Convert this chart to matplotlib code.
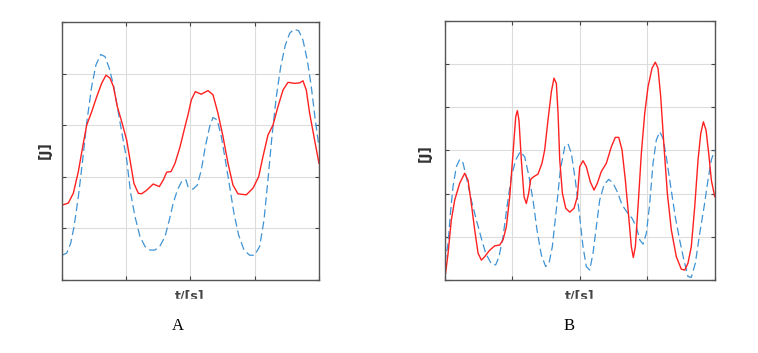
import matplotlib
matplotlib.use("Agg")
import matplotlib.pyplot as plt
from matplotlib.patches import Rectangle

# Panel A data (t in 0..4, energy in 0..5)
a_red_t = [0, 0.098, 0.176, 0.254, 0.332, 0.384, 0.462, 0.54, 0.617, 0.685,
           0.747, 0.80, 0.861, 0.929, 1.007, 1.058, 1.12, 1.188, 1.24, 1.318,
           1.42, 1.515, 1.577, 1.63, 1.697, 1.759, 1.837, 1.914, 1.961, 2.013,
           2.075, 2.168, 2.272, 2.35, 2.428, 2.506, 2.584, 2.661, 2.739, 2.869,
           2.973, 3.061, 3.128, 3.206, 3.284, 3.362, 3.44, 3.518, 3.622, 3.70,
           3.751, 3.803, 3.855, 3.922, 4.0]
a_red_e = [1.45, 1.49, 1.68, 2.10, 2.65, 3.00, 3.26, 3.55, 3.81, 3.97,
           3.91, 3.75, 3.36, 3.07, 2.71, 2.33, 1.87, 1.68, 1.67, 1.74,
           1.86, 1.81, 1.94, 2.09, 2.10, 2.26, 2.58, 2.97, 3.20, 3.49,
           3.65, 3.60, 3.67, 3.59, 3.23, 2.78, 2.26, 1.84, 1.67, 1.65,
           1.78, 2.00, 2.39, 2.81, 3.00, 3.36, 3.68, 3.83, 3.81, 3.82,
           3.86, 3.68, 3.23, 2.78, 2.26]
a_blue_t = [0, 0.073, 0.135, 0.187, 0.254, 0.322, 0.384, 0.462, 0.529, 0.602,
            0.669, 0.736, 0.80, 0.861, 0.929, 1.007, 1.069, 1.136, 1.214, 1.292,
            1.37, 1.447, 1.525, 1.603, 1.67, 1.732, 1.795, 1.863, 1.93, 1.961,
            2.039, 2.106, 2.168, 2.23, 2.298, 2.35, 2.417, 2.48, 2.542, 2.61,
            2.677, 2.75, 2.833, 2.921, 2.999, 3.077, 3.144, 3.206, 3.268, 3.336,
            3.404, 3.476, 3.544, 3.611, 3.684, 3.751, 3.818, 3.88, 3.943, 4.0]
a_blue_e = [0.48, 0.52, 0.71, 1.03, 1.61, 2.33, 3.04, 3.75, 4.17, 4.37,
            4.33, 4.10, 3.78, 3.36, 2.87, 2.33, 1.68, 1.23, 0.84, 0.65,
            0.58, 0.58, 0.66, 0.84, 1.16, 1.49, 1.74, 1.91, 1.94, 1.81,
            1.76, 1.84, 2.13, 2.58, 2.97, 3.15, 3.10, 2.78, 2.33, 1.81,
            1.29, 0.87, 0.58, 0.48, 0.48, 0.65, 1.16, 1.94, 2.78, 3.55,
            4.13, 4.55, 4.78, 4.86, 4.83, 4.65, 4.26, 3.75, 3.10, 2.58]

# Panel B data (t in 0..4, energy in 0..6)
b_red_t = [0, 0.05, 0.098, 0.148, 0.222, 0.296, 0.345, 0.394, 0.444, 0.494,
           0.543, 0.592, 0.667, 0.741, 0.815, 0.864, 0.913, 0.963, 1.012, 1.052,
           1.076, 1.10, 1.135, 1.175, 1.209, 1.244, 1.274, 1.318, 1.382, 1.441,
           1.481, 1.53, 1.58, 1.619, 1.654, 1.679, 1.704, 1.743, 1.793, 1.852,
           1.916, 1.965, 2.0, 2.049, 2.098, 2.157, 2.212, 2.261, 2.32, 2.394,
           2.468, 2.527, 2.578, 2.627, 2.676, 2.726, 2.765, 2.794, 2.824, 2.864,
           2.913, 2.963, 3.012, 3.071, 3.12, 3.16, 3.20, 3.249, 3.298, 3.357,
           3.431, 3.505, 3.556, 3.604, 3.653, 3.704, 3.753, 3.793, 3.832, 3.871,
           3.911, 3.95, 4.0]
b_red_e = [0, 0.62, 1.39, 1.85, 2.24, 2.47, 2.31, 1.77, 1.16, 0.62,
           0.46, 0.54, 0.69, 0.79, 0.81, 0.93, 1.23, 1.93, 2.93, 3.78,
           3.92, 3.70, 2.78, 1.93, 1.77, 2.01, 2.33, 2.39, 2.45, 2.70,
           3.01, 3.70, 4.36, 4.67, 4.55, 3.86, 2.78, 2.01, 1.66, 1.57,
           1.66, 1.93, 2.62, 2.76, 2.62, 2.27, 2.08, 2.24, 2.51, 2.70,
           3.08, 3.30, 3.30, 3.01, 2.31, 1.46, 0.77, 0.52, 0.77, 1.70,
           2.93, 3.86, 4.47, 4.90, 5.04, 4.90, 4.24, 3.08, 2.01, 1.16,
           0.54, 0.25, 0.23, 0.39, 0.77, 1.70, 2.78, 3.39, 3.66, 3.47,
           2.93, 2.31, 1.93]
b_blue_t = [0, 0.05, 0.084, 0.123, 0.172, 0.222, 0.271, 0.33, 0.394, 0.469,
            0.543, 0.607, 0.691, 0.755, 0.804, 0.864, 0.923, 0.987, 1.052, 1.12,
            1.185, 1.249, 1.308, 1.367, 1.431, 1.496, 1.545, 1.594, 1.653, 1.713,
            1.778, 1.827, 1.876, 1.935, 2.0, 2.049, 2.098, 2.148, 2.197, 2.246,
            2.296, 2.36, 2.43, 2.49, 2.557, 2.627, 2.705, 2.775, 2.839, 2.889,
            2.938, 2.987, 3.037, 3.086, 3.135, 3.185, 3.234, 3.283, 3.348, 3.416,
            3.48, 3.544, 3.604, 3.653, 3.713, 3.778, 3.843, 3.90, 3.95, 4.0]
b_blue_e = [0.39, 0.85, 1.54, 2.16, 2.62, 2.79, 2.71, 2.31, 1.85, 1.39,
            0.96, 0.62, 0.37, 0.35, 0.54, 1.00, 1.70, 2.39, 2.78, 2.97,
            2.85, 2.39, 1.85, 1.16, 0.58, 0.31, 0.39, 0.77, 1.62, 2.55,
            3.08, 3.15, 2.93, 2.31, 1.46, 0.77, 0.31, 0.23, 0.62, 1.23,
            1.85, 2.20, 2.33, 2.25, 2.04, 1.74, 1.56, 1.43, 1.23, 0.93,
            0.83, 1.08, 1.77, 2.70, 3.24, 3.43, 3.28, 2.85, 2.16, 1.46,
            0.93, 0.46, 0.08, 0.06, 0.39, 1.08, 1.70, 2.31, 2.78, 3.01]

RED = "#ff2020"
BLUE = "#3f93d4"

fig = plt.figure(figsize=(7.58, 3.53), dpi=100)


def style_axes(ax, ymax):
    ax.set_xlim(0, 4)
    ax.set_ylim(0, ymax)
    ax.set_xticks(range(0, 5))
    ax.set_yticks(range(0, ymax + 1))
    ax.grid(True, color="#dcdcdc", linewidth=0.8)
    ax.set_axisbelow(True)
    ax.tick_params(direction="in", length=3, top=True, right=True,
                   labelbottom=False, labelleft=False, color="#444444")
    for sp in ax.spines.values():
        sp.set_color("#555555")
        sp.set_linewidth(1.0)


axA = fig.add_axes([0.0818, 0.2068, 0.339, 0.731])
axA.plot(a_blue_t, a_blue_e, color=BLUE, lw=0.9, ls=(0, (6.5, 3.2)))
axA.plot(a_red_t, a_red_e, color=RED, lw=1.0)
style_axes(axA, 5)

axB = fig.add_axes([0.5867, 0.2068, 0.3562, 0.7346])
axB.plot(b_blue_t, b_blue_e, color=BLUE, lw=0.9, ls=(0, (6.5, 3.2)))
axB.plot(b_red_t, b_red_e, color=RED, lw=1.0)
style_axes(axB, 6)

# axis labels
fig.text(45 / 758, 1 - 150 / 353, "[J]", rotation=90, ha="center", va="center",
         fontsize=10, fontweight="bold", color="#333333")
fig.text(425 / 758, 1 - 153 / 353, "[J]", rotation=90, ha="center", va="center",
         fontsize=10, fontweight="bold", color="#333333")
fig.text(190 / 758, 1 - 296 / 353, "t/[s]", ha="center", va="center",
         fontsize=9, fontweight="bold", color="#444444")
fig.text(580 / 758, 1 - 296 / 353, "t/[s]", ha="center", va="center",
         fontsize=9, fontweight="bold", color="#444444")
# the labels are cut off at the bottom in the original
fig.patches.append(Rectangle((0, 1 - 310 / 353), 1, 11 / 353,
                             transform=fig.transFigure, color="white", zorder=5))

fig.text(178 / 758, 1 - 326 / 353, "A", ha="center", va="center",
         fontsize=12, family="Liberation Serif")
fig.text(569 / 758, 1 - 326 / 353, "B", ha="center", va="center",
         fontsize=12, family="Liberation Serif")

fig.savefig("out.png", dpi=100)
